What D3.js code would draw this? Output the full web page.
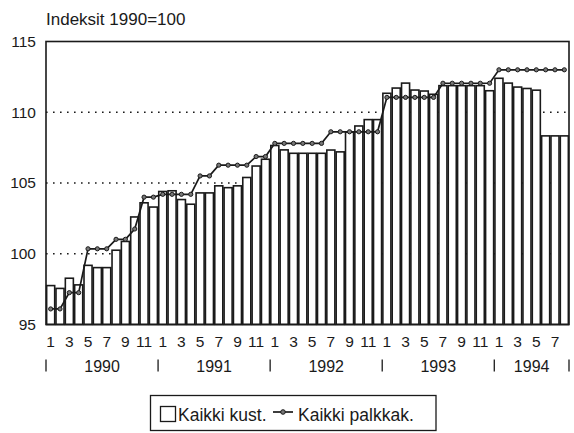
<!DOCTYPE html>
<html>
<head>
<meta charset="utf-8">
<script src="https://cdn.jsdelivr.net/npm/d3@7"></script>
<style>
  html, body { margin: 0; padding: 0; background: #ffffff; }
  svg { display: block; }
  text { font-family: "Liberation Sans", Arial, Helvetica, sans-serif; fill: #1a1a1a; }
</style>
</head>
<body>
<svg id="chart" width="574" height="433"></svg>
<script>
// ---- Data ----
const years = ["1990", "1991", "1992", "1993", "1994"];
const monthsPerYear = [12, 12, 12, 12, 8];
const monthTickLabels = ["1", "3", "5", "7", "9", "11"];
const yTicks = [95, 100, 105, 110, 115];
const gridValues = [100, 105, 110];
const titleText = "Indeksit 1990=100";
const seriesNames = ["Kaikki kust.", "Kaikki palkkak."];

// Kaikki kust. (bars), monthly Jan 1990 – Aug 1994
const kust = [
  97.75, 97.55, 98.27, 97.80, 99.18, 99.02, 99.02, 100.25, 100.87, 102.60, 103.60, 103.30,
  104.40, 104.45, 103.83, 103.50, 104.30, 104.30, 104.80, 104.67, 104.80, 105.39, 106.20, 106.68,
  107.65, 107.34, 107.10, 107.10, 107.10, 107.10, 107.33, 107.20, 108.60, 109.03, 109.48, 109.48,
  111.34, 111.71, 112.06, 111.57, 111.50, 111.27, 111.88, 111.88, 111.88, 111.88, 111.88, 111.52,
  112.40, 112.06, 111.78, 111.68, 111.56, 108.33, 108.33, 108.33
];
// Kaikki palkkak. (line)
const palkkak = [
  96.10, 96.10, 97.25, 97.25, 100.35, 100.35, 100.35, 101.02, 101.02, 101.75, 104.00, 104.00,
  104.20, 104.20, 104.20, 104.20, 105.50, 105.50, 106.26, 106.26, 106.26, 106.26, 106.87, 106.87,
  107.80, 107.80, 107.80, 107.80, 107.80, 107.80, 108.62, 108.62, 108.62, 108.62, 108.62, 108.62,
  111.05, 111.05, 111.05, 111.05, 111.05, 111.05, 112.05, 112.05, 112.05, 112.05, 112.05, 112.05,
  113.00, 113.00, 113.00, 113.00, 113.00, 113.00, 113.00, 113.00
];

// ---- Build month table ----
const months = [];
years.forEach((y, yi) => {
  for (let m = 1; m <= monthsPerYear[yi]; m++) months.push({ key: y + "-" + m, year: y, m: m });
});
months.forEach((d, i) => { d.kust = kust[i]; d.palk = palkkak[i]; });

// ---- Layout ----
const svg = d3.select("#chart");
const L = 46, R = 569, T = 41.5, B = 324.5;
const ink = "#1a1a1a";

const x = d3.scaleBand().domain(months.map(d => d.key)).range([L, R]).paddingInner(0.14).paddingOuter(0.07);
const y = d3.scaleLinear().domain([95, 115]).range([B, T]);

// Title
svg.append("text").attr("x", 46).attr("y", 25).attr("font-size", 17).text(titleText);

// Dotted gridlines (behind bars)
svg.append("g").selectAll("line").data(gridValues).join("line")
  .attr("x1", L).attr("x2", R)
  .attr("y1", d => y(d)).attr("y2", d => y(d))
  .attr("stroke", ink).attr("stroke-width", 1.6)
  .attr("stroke-dasharray", "1.6,5.4");

// Bars
svg.append("g").selectAll("rect").data(months).join("rect")
  .attr("x", d => x(d.key))
  .attr("width", x.bandwidth())
  .attr("y", d => y(d.kust))
  .attr("height", d => y(95) - y(d.kust))
  .attr("fill", "#ffffff")
  .attr("stroke", ink).attr("stroke-width", 1.6);

// Line
const cx = d => x(d.key) + x.bandwidth() / 2;
svg.append("path").datum(months)
  .attr("fill", "none").attr("stroke", ink).attr("stroke-width", 1.7)
  .attr("d", d3.line().x(cx).y(d => y(d.palk)));
svg.append("g").selectAll("circle").data(months).join("circle")
  .attr("cx", cx).attr("cy", d => y(d.palk)).attr("r", 2.1)
  .attr("fill", "#777").attr("stroke", ink).attr("stroke-width", 1);

// Frame
svg.append("rect").attr("x", L).attr("y", T).attr("width", R - L).attr("height", B - T)
  .attr("fill", "none").attr("stroke", ink).attr("stroke-width", 1.6);

// Y axis labels
const yAxis = d3.axisLeft(y).tickValues(yTicks).tickSize(0).tickPadding(0).tickFormat(d3.format("d"));
const gy = svg.append("g").attr("transform", `translate(${L - 10},0)`).call(yAxis);
gy.select(".domain").remove();
gy.selectAll("text").attr("font-size", 15.5).attr("fill", ink)
  .style("font-family", '"Liberation Sans", Arial, sans-serif');

// X month labels
const monthTicks = months.filter(d => monthTickLabels.includes(String(d.m))).map(d => d.key);
const xAxis = d3.axisBottom(x).tickValues(monthTicks).tickSize(0).tickPadding(0)
  .tickFormat(k => k.split("-")[1]);
const gx = svg.append("g").attr("transform", `translate(0,${B + 11})`).call(xAxis);
gx.select(".domain").remove();
gx.selectAll("text").attr("font-size", 15.5).attr("fill", ink).attr("dy", "0.71em")
  .style("font-family", '"Liberation Sans", Arial, sans-serif');

// Year labels and separators
let start = 0;
const yearPos = years.map((yr, i) => {
  const first = months[start].key;
  const last = months[start + monthsPerYear[i] - 1].key;
  const x0 = x(first) - x.step() * x.paddingInner() / 2;
  const x1 = x(last) + x.bandwidth() + x.step() * x.paddingInner() / 2;
  start += monthsPerYear[i];
  return { yr, x0, x1 };
});
const seps = [yearPos[0].x0].concat(yearPos.map(d => d.x1));
svg.append("g").selectAll("line").data(seps).join("line")
  .attr("x1", d => d).attr("x2", d => d)
  .attr("y1", 359.5).attr("y2", 371.5)
  .attr("stroke", ink).attr("stroke-width", 1.3);
svg.append("g").selectAll("text").data(yearPos).join("text")
  .attr("x", d => (d.x0 + d.x1) / 2).attr("y", 371.5)
  .attr("text-anchor", "middle").attr("font-size", 16).text(d => d.yr);

// Legend
const lg = svg.append("g");
lg.append("rect").attr("x", 150.5).attr("y", 395.5).attr("width", 285.5).attr("height", 35)
  .attr("fill", "#fff").attr("stroke", ink).attr("stroke-width", 1.3);
lg.append("rect").attr("x", 160.5).attr("y", 406.5).attr("width", 15).attr("height", 15)
  .attr("fill", "#fff").attr("stroke", ink).attr("stroke-width", 1.3);
lg.append("text").attr("x", 178).attr("y", 421).attr("font-size", 17.5).text(seriesNames[0]);
lg.append("line").attr("x1", 273).attr("x2", 293).attr("y1", 412).attr("y2", 412)
  .attr("stroke", ink).attr("stroke-width", 1.7);
lg.append("circle").attr("cx", 283).attr("cy", 412).attr("r", 2.3)
  .attr("fill", "#777").attr("stroke", ink).attr("stroke-width", 1);
lg.append("text").attr("x", 298).attr("y", 421).attr("font-size", 17.5).text(seriesNames[1]);
</script>
</body>
</html>
